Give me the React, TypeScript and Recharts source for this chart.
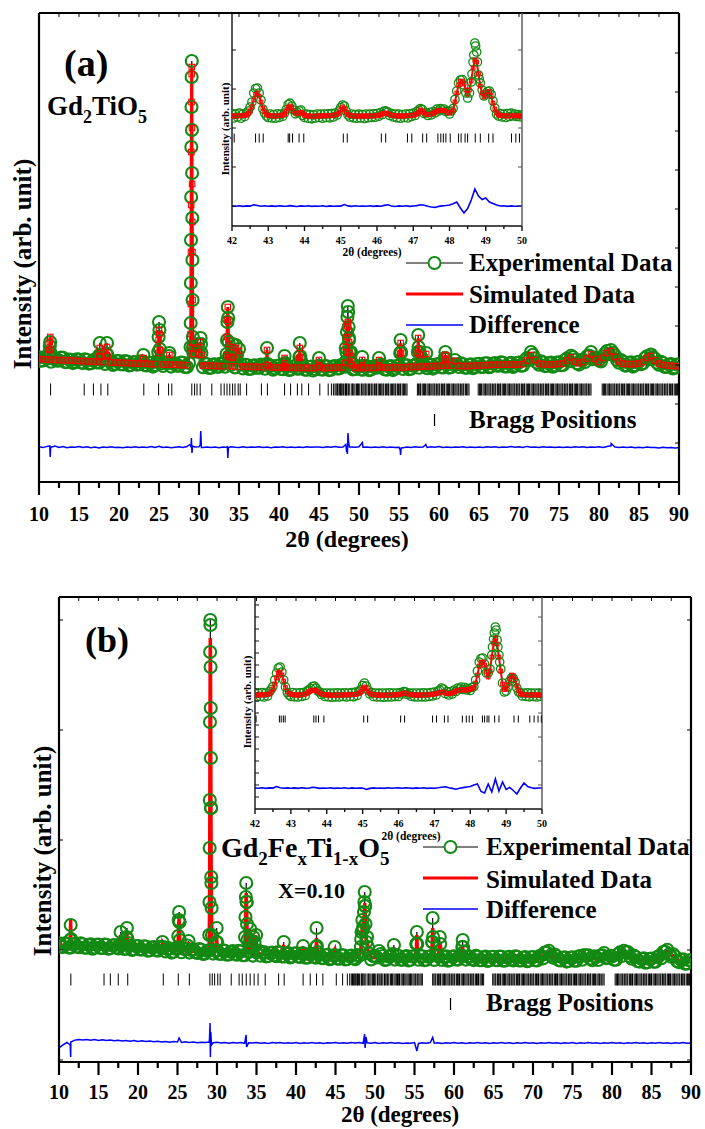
import React from 'react';
import { ComposedChart, Line, XAxis, YAxis } from 'recharts';

const FONT = "'Liberation Serif', 'Times New Roman', Times, serif";
const GREEN = '#138a13';
const RED = '#ff0000';
const BLUE = '#0000ff';

type Pt = { x: number; y: number };

// ---------------- Panel (a): Gd2TiO5 ----------------
// observed / calculated / difference counts, one sample every 0.5° from 10° to 90°
const obsBgA = [
  1248, 1216, 1232, 1202, 1236, 1216, 1242, 1200, 1223, 1203,
  1224, 1190, 1220, 1188, 1226, 1196, 1218, 1390, 1210, 1182,
  1210, 1176, 1204, 1170, 1200, 1178, 1204, 1166, 1192, 1170,
  1600, 1160, 1190, 1154, 1188, 1162, 1192, 1150, 2420, 1320,
  1300, 1148, 1178, 1142, 1176, 1152, 1180, 1420, 1170, 1146,
  1330, 1136, 1170, 1132, 1166, 1142, 1170, 1340, 1162, 1136,
  1162, 1128, 1160, 1124, 1158, 1134, 1162, 1122, 1154, 1130,
  1240, 1124, 1156, 1122, 1160, 1136, 1166, 1500, 1300, 1130,
  1158, 1122, 1158, 1124, 1160, 1240, 1162, 1124, 1160, 1136,
  1164, 1130, 1166, 1132, 1168, 1142, 1172, 1138, 1174, 1150,
  1180, 1146, 1184, 1148, 1220, 1150, 1178, 1142, 1178, 1152,
  1182, 1150, 1188, 1154, 1190, 1162, 1192, 1156, 1192, 1164,
  1194, 1166, 1240, 1300, 1236, 1172, 1196, 1160, 1194, 1166,
  1198, 1170, 1236, 1262, 1222, 1174, 1220, 1256, 1300, 1244,
  1216, 1258, 1310, 1320, 1266, 1192, 1202, 1166, 1196, 1168,
  1202, 1188, 1258, 1274, 1232, 1172, 1190, 1152, 1180, 1146,
  1174,
];
// observed counts between those samples (10.25°, 10.75°, … 89.75°)
const obsMidA = [
  1214, 1247, 1250, 1235, 1213, 1244, 1199, 1225, 1189, 1227,
  1195, 1228, 1184, 1216, 1195, 1255, 1181, 1207, 1171, 1209,
  1177, 1209, 1165, 1196, 1174, 1206, 1167, 1190, 1154, 1200,
  1185, 1195, 1260, 1184, 1163, 1195, 1151, 1190, 1350, 1320,
  1380, 1184, 1141, 1174, 1153, 1185, 1152, 1240, 1250, 1270,
  1175, 1173, 1130, 1163, 1142, 1174, 1132, 1160, 1122, 1161,
  1130, 1190, 1121, 1155, 1134, 1215, 1123, 1150, 1115, 1155,
  1126, 1160, 1119, 1154, 1135, 1170, 1152, 1440, 1125, 1155,
  1125, 1161, 1119, 1154, 1142, 1175, 1125, 1154, 1119, 1160,
  1290, 1167, 1127, 1162, 1185, 1245, 1162, 1170, 1134, 1176,
  1148, 1240, 1144, 1176, 1177, 1186, 1142, 1170, 1137, 1179,
  1151, 1188, 1148, 1183, 1164, 1198, 1155, 1184, 1150, 1190,
  1163, 1217, 1221, 1272, 1194, 1206, 1159, 1186, 1152, 1194,
  1167, 1220, 1208, 1247, 1188, 1219, 1199, 1265, 1227, 1230,
  1205, 1285, 1278, 1292, 1220, 1220, 1164, 1189, 1154, 1197,
  1177, 1240, 1228, 1250, 1192, 1203, 1151, 1174, 1136, 1174,
];
const calcBgA = [
  1230, 1228, 1226, 1224, 1222, 1220, 1218, 1216, 1215, 1213,
  1211, 1209, 1207, 1205, 1204, 1202, 1200, 1350, 1196, 1195,
  1193, 1191, 1190, 1188, 1186, 1185, 1183, 1182, 1180, 1179,
  1520, 1176, 1175, 1173, 1172, 1171, 1170, 1168, 2300, 1330,
  1280, 1164, 1163, 1162, 1161, 1160, 1159, 1450, 1157, 1156,
  1310, 1154, 1153, 1152, 1151, 1150, 1149, 1320, 1147, 1146,
  1145, 1144, 1144, 1143, 1142, 1142, 1141, 1141, 1140, 1140,
  1220, 1140, 1140, 1141, 1142, 1144, 1146, 1450, 1260, 1141,
  1140, 1140, 1141, 1141, 1142, 1220, 1143, 1143, 1144, 1145,
  1146, 1147, 1148, 1150, 1151, 1152, 1154, 1156, 1158, 1160,
  1162, 1164, 1166, 1165, 1210, 1161, 1160, 1160, 1161, 1163,
  1165, 1167, 1169, 1171, 1172, 1173, 1173, 1174, 1175, 1175,
  1176, 1180, 1215, 1270, 1220, 1185, 1178, 1176, 1176, 1178,
  1180, 1185, 1215, 1245, 1205, 1188, 1200, 1235, 1275, 1230,
  1200, 1240, 1290, 1310, 1250, 1205, 1185, 1180, 1178, 1180,
  1185, 1200, 1240, 1260, 1215, 1185, 1172, 1166, 1162, 1160,
  1158,
];
const diffBgA = [
  352, 344, 356, 348, 360, 346, 354, 342, 350, 347,
  355, 345, 352, 343, 349, 340, 350, 344, 352, 346,
  348, 342, 351, 345, 353, 344, 350, 346, 354, 345,
  356, 346, 350, 342, 348, 352, 346, 354, 347, 350,
  352, 344, 350, 346, 351, 343, 349, 345, 352, 348,
  346, 352, 344, 350, 347, 353, 345, 349, 343, 351,
  347, 352, 345, 350, 344, 351, 346, 353, 347, 350,
  349, 345, 352, 347, 356, 348, 350, 346, 351, 348,
  352, 347, 350, 344, 351, 346, 352, 345, 350, 344,
  348, 343, 350, 346, 352, 348, 350, 345, 352, 347,
  354, 346, 351, 344, 350, 347, 352, 345, 349, 346,
  350, 345, 352, 347, 353, 346, 351, 348, 354, 347,
  352, 345, 356, 348, 351, 346, 353, 347, 350, 345,
  349, 344, 351, 346, 352, 347, 353, 345, 350, 347,
  352, 346, 355, 362, 350, 345, 351, 344, 349, 343,
  348, 342, 350, 345, 346, 341, 347, 343, 345, 341,
  342,
];
// sharp reflections, sampled finely: 2θ, observed, calculated
const peakAngA = [
  11.3, 11.35, 11.4, 11.45, 17.55, 17.6, 17.65, 18.45, 18.56, 23.05,
  24.9, 24.95, 25.05, 25.1, 26.3,
  28.94, 28.96, 28.98, 29.02, 29.04, 29.06, 29.08, 29.1, 29.12, 29.14,
  29.16, 29.18, 29.2, 29.23, 29.26,
  29.9, 30.2, 30.3, 33.45, 33.55, 33.6, 33.65, 33.7, 33.75, 34.15,
  34.2, 34.25, 34.6, 38.42, 38.58, 40.64, 40.7, 40.76, 42.55, 42.6,
  42.65, 44.94, 45.06, 48.3, 48.35, 48.42, 48.55, 48.6, 48.65, 48.7,
  48.75, 48.8, 48.9, 49.1, 50.34, 50.4, 50.46, 52.44, 52.56, 55.15,
  55.2, 55.25, 57.35, 57.4, 57.45, 57.6, 58.4, 60.75, 60.8, 60.85,
];
const peakObsA = [
  1300, 1360, 1400, 1290, 1270, 1390, 1260, 1280, 1270, 1270,
  1300, 1450, 1520, 1330, 1290,
  1350, 1590, 1990, 2850, 3350, 3750, 4050, 4210, 3520, 3090,
  2640, 2220, 1820, 1450, 1300,
  1380, 1440, 1290, 1280, 1600, 1750, 1640, 1400, 1260, 1260,
  1380, 1250, 1370, 1180, 1180, 1170, 1260, 1170, 1250, 1390,
  1260, 1160, 1160, 1200, 1340, 1300, 1650, 1760, 1700, 1550,
  1420, 1300, 1200, 1180, 1160, 1250, 1160, 1160, 1160, 1290,
  1420, 1300, 1300, 1470, 1350, 1300, 1290, 1240, 1300, 1230,
];
const peakCalcA = [
  1320, 1400, 1450, 1330, 1260, 1340, 1250, 1270, 1260, 1240,
  1290, 1420, 1480, 1320, 1270,
  1340, 1480, 1780, 2770, 3300, 3800, 4080, 4150, 3540, 2980,
  2600, 2300, 1820, 1400, 1280,
  1350, 1400, 1270, 1270, 1620, 1750, 1600, 1380, 1250, 1250,
  1350, 1240, 1340, 1170, 1170, 1160, 1240, 1160, 1240, 1340,
  1250, 1150, 1150, 1190, 1350, 1300, 1560, 1600, 1580, 1500,
  1400, 1290, 1190, 1170, 1150, 1220, 1150, 1150, 1150, 1280,
  1390, 1290, 1290, 1440, 1330, 1270, 1280, 1230, 1270, 1220,
];
const diffSpikeAngA = [
  11.35, 11.4, 11.45, 28.95, 29.05, 29.12, 29.2, 30.15, 30.22, 30.3,
  33.55, 33.6, 33.68, 48.35, 48.45, 48.55, 48.62, 48.7, 48.8, 50.42,
  55.15, 55.2, 55.27, 58.35, 81.52,
];
const diffSpikeA = [
  362, 250, 335, 380, 440, 290, 360, 370, 510, 345,
  360, 240, 345, 375, 300, 280, 490, 400, 350, 395,
  320, 270, 340, 375, 385,
];
const braggLowA = [
  11.45, 15.65, 16.8, 17.74, 18.6, 23.1, 24.95, 26.2, 26.6, 29.1,
  29.45, 29.75, 30.15, 31.6, 32.75, 33.15, 33.5, 33.85, 34.2, 34.5,
  34.9, 35.15, 35.95, 37.8, 38.55, 40.7, 41.45, 42.3, 42.85, 43.7,
  45.1, 46.15, 46.55,
];

// ---------------- Panel (b): Gd2FexTi1-xO5, x = 0.10 ----------------
const obsBgB = [
  1188, 1150, 1184, 1146, 1180, 1148, 1178, 1142, 1176, 1144,
  1174, 1140, 1172, 1138, 1170, 1136, 1168, 1132, 1164, 1128,
  1160, 1124, 1155, 1118, 1150, 1112, 1142, 1106, 1138, 1102,
  1134, 1098, 1130, 1094, 1126, 1090, 1122, 1086, 1118, 1084,
  1117, 1080, 1113, 1076, 1109, 1072, 1105, 1068, 1101, 1064,
  1098, 1062, 1096, 1060, 1094, 1058, 1092, 1056, 1090, 1054,
  1088, 1050, 1084, 1046, 1080, 1042, 1076, 1038, 1072, 1034,
  1068, 1032, 1066, 1030, 1064, 1028, 1062, 1350, 1250, 1026,
  1061, 1110, 1060, 1024, 1060, 1024, 1059, 1023, 1059, 1022,
  1058, 1022, 1058, 1022, 1057, 1021, 1057, 1021, 1056, 1020,
  1056, 1024, 1064, 1024, 1055, 1019, 1054, 1018, 1054, 1017,
  1053, 1017, 1052, 1016, 1052, 1015, 1051, 1015, 1050, 1014,
  1050, 1016, 1062, 1095, 1112, 1044, 1058, 1016, 1048, 1010,
  1046, 1012, 1060, 1070, 1066, 1018, 1050, 1062, 1090, 1042,
  1055, 1022, 1096, 1112, 1100, 1032, 1050, 1004, 1036, 998,
  1035, 1002, 1062, 1100, 1122, 1052, 1055, 998, 1026, 986,
  1018,
];
const obsMidB = [
  1154, 1187, 1144, 1176, 1154, 1186, 1142, 1169, 1133, 1172,
  1141, 1175, 1132, 1165, 1144, 1176, 1131, 1190, 1120, 1158,
  1126, 1158, 1113, 1144, 1121, 1151, 1150, 1131, 1094, 1132,
  1400, 1133, 1165, 1121, 1099, 1130, 1080, 1111, 2540, 1115,
  1083, 1116, 1072, 1102, 1082, 1113, 1068, 1600, 1210, 1195,
  1115, 1098, 1055, 1088, 1067, 1099, 1055, 1084, 1046, 1085,
  1054, 1087, 1042, 1075, 1053, 1100, 1039, 1067, 1028, 1066,
  1034, 1068, 1025, 1058, 1038, 1070, 1230, 1560, 1085, 1059,
  1045, 1080, 1020, 1054, 1080, 1067, 1023, 1051, 1015, 1055,
  1180, 1060, 1018, 1052, 1200, 1065, 1180, 1049, 1013, 1053,
  1025, 1064, 1100, 1052, 1029, 1061, 1018, 1046, 1010, 1050,
  1019, 1054, 1012, 1046, 1026, 1058, 1015, 1043, 1007, 1047,
  1017, 1056, 1036, 1095, 1067, 1075, 1019, 1042, 1004, 1043,
  1013, 1055, 1023, 1061, 1034, 1058, 1020, 1067, 1039, 1063,
  1022, 1078, 1061, 1097, 1057, 1065, 1008, 1030, 992, 1031,
  1003, 1050, 1038, 1102, 1077, 1077, 1007, 1021, 982, 1017,
];
const calcBgB = [
  1170, 1168, 1166, 1165, 1163, 1162, 1161, 1160, 1159, 1158,
  1157, 1156, 1155, 1154, 1153, 1152, 1150, 1148, 1146, 1144,
  1142, 1140, 1137, 1134, 1131, 1128, 1125, 1122, 1120, 1118,
  1116, 1114, 1112, 1110, 1108, 1106, 1104, 1102, 1101, 1100,
  1099, 1097, 1095, 1093, 1091, 1089, 1087, 1085, 1083, 1081,
  1080, 1079, 1078, 1077, 1076, 1075, 1074, 1073, 1072, 1071,
  1070, 1068, 1066, 1064, 1062, 1060, 1058, 1056, 1054, 1052,
  1050, 1049, 1048, 1047, 1046, 1046, 1045, 1310, 1220, 1044,
  1043, 1090, 1043, 1042, 1042, 1042, 1041, 1041, 1041, 1040,
  1040, 1040, 1040, 1040, 1039, 1039, 1039, 1039, 1038, 1038,
  1038, 1042, 1046, 1042, 1037, 1037, 1036, 1036, 1036, 1035,
  1035, 1035, 1034, 1034, 1034, 1033, 1033, 1033, 1032, 1032,
  1031, 1033, 1040, 1075, 1090, 1060, 1040, 1034, 1030, 1028,
  1027, 1030, 1040, 1050, 1048, 1036, 1030, 1045, 1068, 1060,
  1035, 1040, 1075, 1090, 1080, 1050, 1030, 1022, 1018, 1016,
  1016, 1020, 1040, 1080, 1100, 1070, 1035, 1015, 1008, 1004,
  1000,
];
const diffBgB = [
  140, 172, 195, 208, 218, 224, 220, 226, 218, 224,
  216, 222, 214, 220, 212, 218, 210, 216, 208, 214,
  206, 212, 204, 210, 202, 208, 200, 206, 198, 204,
  200, 196, 203, 194, 200, 192, 198, 194, 200, 192,
  197, 190, 196, 188, 194, 190, 196, 187, 193, 189,
  195, 188, 192, 186, 194, 189, 195, 187, 192, 188,
  194, 186, 192, 188, 195, 187, 193, 186, 192, 189,
  195, 187, 193, 188, 196, 190, 194, 187, 192, 188,
  194, 186, 192, 188, 195, 187, 193, 186, 191, 188,
  194, 186, 192, 187, 195, 188, 193, 186, 192, 188,
  194, 187, 193, 186, 192, 188, 195, 187, 193, 186,
  192, 188, 195, 187, 193, 186, 192, 188, 194, 187,
  193, 186, 192, 188, 195, 187, 193, 186, 192, 188,
  194, 186, 192, 187, 195, 188, 193, 186, 192, 188,
  194, 187, 193, 186, 192, 188, 195, 187, 193, 186,
  192, 188, 195, 187, 193, 186, 192, 188, 194, 187,
  190,
];
const peakAngB = [
  11.42, 11.48, 11.54, 17.8, 18.55, 18.6, 18.66, 23.1, 25.1, 25.15,
  25.2, 25.25, 25.3, 26.4,
  29.02, 29.05, 29.07, 29.09, 29.11, 29.13, 29.15, 29.17, 29.19, 29.21,
  29.23, 29.25, 29.27, 29.29, 29.32, 29.36,
  29.9, 29.96, 30.02, 33.55, 33.6, 33.65, 33.7, 33.75, 33.8, 33.85,
  34.2, 34.6, 34.95, 38.45, 40.9, 42.55, 42.6, 42.65, 44.9, 48.2,
  48.3, 48.4, 48.45, 48.6, 48.65, 48.7, 48.75, 48.8, 48.9, 49.1,
  52.4, 55.25, 55.3, 55.35, 57.25, 57.3, 57.35, 58.2, 61.05, 61.1,
  61.15,
];
const peakObsB = [
  1220, 1370, 1230, 1300, 1250, 1340, 1230, 1200, 1260, 1420,
  1500, 1400, 1220, 1210,
  1270, 1600, 2140, 2620, 3400, 4100, 4420, 4370, 3950, 3540,
  3040, 2540, 1850, 1790, 1540, 1270,
  1200, 1340, 1200, 1250, 1450, 1650, 1790, 1600, 1380, 1220,
  1330, 1250, 1270, 1200, 1160, 1150, 1340, 1160, 1150, 1150,
  1300, 1420, 1320, 1500, 1600, 1700, 1560, 1380, 1200, 1150,
  1170, 1180, 1300, 1180, 1200, 1440, 1250, 1250, 1150, 1220,
  1150,
];
const peakCalcB = [
  1200, 1420, 1210, 1270, 1220, 1290, 1200, 1190, 1240, 1380,
  1440, 1350, 1200, 1200,
  1250, 1500, 1900, 2500, 3300, 3950, 4240, 4100, 3700, 3200,
  2700, 2200, 1800, 1600, 1400, 1220,
  1180, 1290, 1180, 1230, 1400, 1580, 1690, 1550, 1350, 1200,
  1320, 1260, 1250, 1170, 1150, 1130, 1240, 1140, 1120, 1120,
  1260, 1350, 1300, 1400, 1520, 1590, 1500, 1350, 1180, 1120,
  1100, 1150, 1270, 1150, 1180, 1340, 1200, 1200, 1100, 1150,
  1100,
];
const diffSpikeAngB = [
  11.42, 11.48, 11.54, 25.2, 29.05, 29.12, 29.16, 29.22, 29.3, 33.68,
  33.75, 48.6, 48.68, 48.75, 48.85, 55.3, 57.3,
];
const diffSpikeB = [
  170, 50, 200, 240, 230, 390, 50, 300, 170, 270,
  150, 230, 280, 140, 250, 110, 245,
];
const braggLowB = [
  11.5, 15.7, 16.5, 17.5, 18.7, 23.2, 25.1, 26.5, 29.1, 29.4,
  29.7, 30.1, 30.4, 31.8, 32.8, 33.2, 33.7, 34.2, 34.7, 35.2,
  36.1, 37.8, 38.5, 40.9, 41.8, 42.6, 43.4, 45.1, 45.9, 46.5,
];

// reflections above 46.5°, common to both structures
const braggDense = [
  46.8, 47.0, 47.15, 47.3, 47.38, 47.55, 47.7, 47.78, 47.9, 48.05, 48.25, 48.32, 48.45, 48.5,
  48.7, 48.85, 49.1, 49.2, 49.35, 49.5, 49.7, 49.82, 49.95, 50.1, 50.3, 50.4, 50.6, 50.75,
  50.85, 51.0, 51.2, 51.3, 51.5, 51.6, 51.75, 51.95, 52.1, 52.2, 52.4, 52.55, 52.7, 52.85,
  53.0, 53.1, 53.3, 53.45, 53.6, 53.7, 53.9, 54.05, 54.2, 54.35, 54.5, 54.6, 54.8, 54.95,
  55.1, 55.2, 55.4, 55.55, 55.7, 55.85, 56.0,
  57.3, 57.45, 57.6, 57.7, 57.9, 58.05, 58.2, 58.3, 58.5, 58.65, 58.8, 58.9, 59.1, 59.25,
  59.4, 59.5, 59.7, 59.85, 60.0, 60.1, 60.3, 60.45, 60.6, 60.7, 60.9, 61.05, 61.2, 61.3,
  61.5, 61.65, 61.8, 61.9, 62.1, 62.25, 62.4, 62.5, 62.7, 62.85, 63.0, 63.1, 63.3, 63.45,
  63.6, 63.75,
  64.9, 65.05, 65.2, 65.3, 65.5, 65.65, 65.8, 65.9, 66.1, 66.25, 66.4, 66.5, 66.7, 66.85,
  67.0, 67.1, 67.3, 67.45, 67.6, 67.7, 67.9, 68.05, 68.2, 68.3, 68.5, 68.65, 68.8, 68.9,
  69.1, 69.25, 69.4, 69.5, 69.7, 69.85, 70.0, 70.1, 70.3, 70.45, 70.6, 70.7, 70.9, 71.05,
  71.2, 71.3, 71.5, 71.65, 71.8, 71.9, 72.1, 72.25, 72.4, 72.5, 72.7, 72.85, 73.0, 73.1,
  73.3, 73.45, 73.6, 73.7, 73.9, 74.05, 74.2, 74.3, 74.5, 74.65, 74.8, 74.9, 75.1, 75.25,
  75.4, 75.5, 75.7, 75.85, 76.0, 76.1, 76.3, 76.45, 76.6, 76.7, 76.9, 77.05, 77.2, 77.3,
  77.5, 77.65, 77.8, 77.9, 78.1, 78.25, 78.4, 78.5, 78.7, 78.85, 79.0,
  80.4, 80.55, 80.7, 80.8, 81.0, 81.15, 81.3, 81.4, 81.6, 81.75, 81.9, 82.0, 82.2, 82.35,
  82.5, 82.6, 82.8, 82.95, 83.1, 83.2, 83.4, 83.55, 83.7, 83.8, 84.0, 84.15, 84.3, 84.4,
  84.6, 84.75, 84.9, 85.0, 85.2, 85.35, 85.5, 85.6, 85.8, 85.95, 86.1, 86.2, 86.4, 86.55,
  86.7, 86.8, 87.0, 87.15, 87.3, 87.4, 87.6, 87.75, 87.9, 88.0, 88.2, 88.35, 88.5, 88.6,
  88.8, 88.95, 89.1, 89.2, 89.4, 89.55, 89.7, 89.8, 89.95,
];

// ---------------- Insets: 42°–50° zoom, one sample every 0.05° ----------------
const obsInA = [
  1125, 1080, 1118, 1090, 1128, 1078, 1120, 1095, 1130, 1150,
  1190, 1240, 1330, 1375, 1380, 1330, 1260, 1170, 1130, 1100,
  1085, 1120, 1080, 1115, 1078, 1122, 1085, 1118, 1098, 1130,
  1165, 1215, 1228, 1200, 1160, 1122, 1138, 1152, 1160, 1105,
  1085, 1118, 1078, 1115, 1072, 1112, 1080, 1120, 1085, 1118,
  1078, 1120, 1085, 1122, 1082, 1125, 1090, 1128, 1110, 1150,
  1185, 1210, 1200, 1150, 1110, 1090, 1120, 1082, 1115, 1078,
  1118, 1080, 1115, 1075, 1120, 1082, 1118, 1085, 1122, 1088,
  1125, 1098, 1135, 1115, 1150, 1148, 1140, 1105, 1125, 1090,
  1120, 1082, 1118, 1078, 1115, 1085, 1120, 1080, 1122, 1095,
  1128, 1105, 1145, 1160, 1175, 1165, 1125, 1130, 1105, 1135,
  1112, 1145, 1130, 1168, 1150, 1175, 1160, 1170, 1145, 1150,
  1120, 1150, 1175, 1265, 1350, 1430, 1460, 1465, 1410, 1330,
  1280, 1330, 1440, 1640, 1830, 1740, 1510, 1430, 1360, 1300,
  1320, 1345, 1350, 1315, 1250, 1180, 1120, 1100, 1125, 1090,
  1120, 1085, 1125, 1095, 1128, 1100, 1120, 1095, 1115, 1092,
  1110,
];
const calcInA = [
  1100, 1101, 1100, 1102, 1101, 1102, 1103, 1105, 1110, 1125,
  1150, 1195, 1260, 1315, 1330, 1300, 1240, 1180, 1140, 1118,
  1108, 1103, 1101, 1100, 1100, 1101, 1102, 1105, 1110, 1118,
  1150, 1185, 1200, 1180, 1150, 1130, 1125, 1132, 1138, 1122,
  1106, 1102, 1100, 1099, 1099, 1099, 1100, 1100, 1100, 1101,
  1101, 1102, 1102, 1103, 1104, 1106, 1108, 1112, 1118, 1128,
  1160, 1190, 1175, 1140, 1115, 1105, 1102, 1100, 1100, 1099,
  1099, 1099, 1099, 1099, 1100, 1100, 1100, 1101, 1101, 1102,
  1102, 1106, 1112, 1120, 1128, 1130, 1125, 1116, 1108, 1104,
  1102, 1101, 1100, 1100, 1100, 1101, 1101, 1102, 1104, 1107,
  1108, 1112, 1120, 1140, 1160, 1150, 1130, 1118, 1114, 1116,
  1120, 1128, 1138, 1148, 1155, 1158, 1158, 1155, 1150, 1135,
  1130, 1140, 1160, 1240, 1330, 1410, 1445, 1450, 1420, 1360,
  1320, 1360, 1450, 1580, 1660, 1640, 1520, 1400, 1330, 1290,
  1310, 1340, 1345, 1300, 1230, 1170, 1130, 1112, 1105, 1102,
  1102, 1101, 1100, 1100, 1101, 1102, 1102, 1101, 1100, 1100,
  1100,
];
const extraObsAngInA = [48.62, 48.67, 48.72, 48.77, 48.82];
const extraObsInA = [1520, 1710, 1800, 1640, 1470];
// difference every 0.1°
const diffInA = [
  200, 198, 203, 196, 201, 199, 212, 205, 197, 202,
  198, 201, 196, 203, 199, 197, 204, 199, 195, 201,
  197, 202, 196, 200, 198, 203, 195, 201, 197, 200,
  199, 215, 201, 196, 202, 197, 200, 198, 203, 196,
  201, 198, 206, 212, 200, 195, 201, 198, 203, 196,
  200, 204, 212, 208, 198, 190, 186, 196, 201, 205,
  210, 222, 240, 180, 130, 175, 260, 370, 300, 265,
  280, 240, 225, 210, 200, 203, 196, 201, 198, 200,
  199,
];
const braggInA = [
  42.06, 42.65, 42.75, 42.86, 43.55, 43.59, 43.67, 43.85, 43.98, 45.07,
  45.18, 46.12, 46.24, 46.84, 46.96, 47.26, 47.37, 47.68, 47.76, 47.83,
  47.9, 48.02, 48.25, 48.32, 48.43, 48.5, 48.71, 48.85, 49.08, 49.2,
  49.71, 49.83, 49.93,
];

const obsInB = [
  1160, 1122, 1158, 1125, 1165, 1120, 1160, 1130, 1172, 1195,
  1225, 1290, 1360, 1410, 1420, 1370, 1290, 1220, 1165, 1140,
  1125, 1165, 1122, 1160, 1120, 1162, 1125, 1165, 1135, 1180,
  1190, 1205, 1225, 1230, 1210, 1180, 1170, 1145, 1160, 1125,
  1160, 1120, 1158, 1118, 1160, 1122, 1162, 1120, 1158, 1125,
  1162, 1120, 1160, 1125, 1165, 1122, 1168, 1135, 1178, 1195,
  1235, 1260, 1230, 1190, 1150, 1165, 1125, 1160, 1120, 1158,
  1120, 1160, 1118, 1158, 1122, 1162, 1120, 1160, 1125, 1158,
  1125, 1165, 1150, 1175, 1170, 1145, 1160, 1128, 1158, 1122,
  1160, 1120, 1158, 1122, 1162, 1120, 1160, 1125, 1165, 1130,
  1170, 1140, 1180, 1190, 1210, 1200, 1155, 1175, 1140, 1172,
  1150, 1190, 1175, 1210, 1200, 1220, 1195, 1215, 1190, 1205,
  1185, 1215, 1225, 1290, 1380, 1470, 1505, 1510, 1450, 1360,
  1360, 1400, 1540, 1700, 1820, 1690, 1540, 1400, 1260, 1170,
  1180, 1220, 1280, 1310, 1305, 1270, 1210, 1170, 1160, 1130,
  1160, 1125, 1162, 1122, 1158, 1125, 1160, 1120, 1158, 1128,
  1155,
];
const calcInB = [
  1140, 1141, 1140, 1142, 1141, 1142, 1143, 1145, 1152, 1170,
  1200, 1250, 1310, 1360, 1370, 1340, 1280, 1215, 1175, 1155,
  1147, 1143, 1141, 1140, 1140, 1141, 1142, 1145, 1150, 1160,
  1172, 1182, 1188, 1190, 1186, 1175, 1162, 1152, 1146, 1143,
  1141, 1140, 1139, 1139, 1139, 1139, 1140, 1140, 1140, 1141,
  1141, 1141, 1142, 1142, 1143, 1144, 1146, 1150, 1158, 1172,
  1200, 1220, 1205, 1178, 1158, 1148, 1143, 1141, 1140, 1139,
  1139, 1139, 1139, 1139, 1139, 1140, 1140, 1140, 1141, 1141,
  1143, 1148, 1155, 1160, 1158, 1152, 1146, 1143, 1141, 1140,
  1140, 1140, 1140, 1140, 1141, 1141, 1142, 1143, 1145, 1148,
  1150, 1153, 1158, 1165, 1170, 1168, 1160, 1155, 1153, 1155,
  1160, 1168, 1178, 1186, 1190, 1192, 1190, 1188, 1190, 1195,
  1198, 1205, 1215, 1260, 1340, 1430, 1468, 1470, 1440, 1370,
  1320, 1380, 1520, 1660, 1710, 1650, 1520, 1380, 1250, 1195,
  1200, 1240, 1300, 1340, 1335, 1290, 1230, 1180, 1155, 1145,
  1142, 1141, 1140, 1140, 1141, 1142, 1142, 1141, 1140, 1140,
  1140,
];
const extraObsAngInB = [48.62, 48.67, 48.72, 48.77, 48.82];
const extraObsInB = [1620, 1760, 1790, 1620, 1470];
const diffInB = [
  210, 208, 213, 206, 211, 209, 225, 212, 207, 211,
  208, 211, 206, 212, 209, 207, 218, 214, 206, 210,
  208, 212, 206, 210, 208, 213, 205, 211, 207, 210,
  209, 195, 206, 211, 207, 210, 206, 212, 207, 210,
  211, 207, 213, 210, 206, 211, 208, 212, 206, 210,
  208, 212, 218, 222, 212, 206, 198, 208, 214, 220,
  225, 240, 250, 175, 160, 250, 170, 300, 180, 270,
  195, 215, 185, 150, 210, 260, 225, 212, 206, 210,
  210,
];
const braggInB = [
  42.03, 42.68, 42.73, 42.79, 42.84, 43.64, 43.7, 43.77, 43.92, 45.03,
  45.14, 46.06, 46.17, 46.95, 47.06, 47.28, 47.38, 47.78, 47.89, 47.97,
  48.06, 48.34, 48.4, 48.47, 48.52, 48.68, 48.8, 49.22, 49.34, 49.66,
  49.78, 49.89, 49.98,
];

// axis ticks
const mainTicks = [
  10, 12.5, 15, 17.5, 20, 22.5, 25, 27.5, 30, 32.5, 35, 37.5, 40, 42.5, 45, 47.5, 50,
  52.5, 55, 57.5, 60, 62.5, 65, 67.5, 70, 72.5, 75, 77.5, 80, 82.5, 85, 87.5, 90,
];
const insetTicks = [42, 42.5, 43, 43.5, 44, 44.5, 45, 45.5, 46, 46.5, 47, 47.5, 48, 48.5, 49, 49.5, 50];

// ---------------- helpers ----------------
const onGrid = (vals: number[], start: number, step: number): Pt[] =>
  vals.map((y, i) => ({ x: Math.round((start + i * step) * 1000) / 1000, y }));
const zip = (xs: number[], ys: number[]): Pt[] => xs.map((x, i) => ({ x, y: ys[i] }));
const merged = (...parts: Pt[][]): Pt[] => parts.flat().sort((a, b) => a.x - b.x);
const row = (xs: number[], y: number): Pt[] => xs.map((x) => ({ x, y }));

const isMultiple = (v: number, step: number) => Math.abs(v / step - Math.round(v / step)) < 1e-6;

type Margin = { top: number; right: number; bottom: number; left: number };

type PanelProps = {
  left: number;
  top: number;
  width: number;
  height: number;
  margin: Margin;
  xDomain: [number, number];
  yDomain: [number, number];
  xTicks: number[];
  labelStep: number;
  tickMajor: number;
  tickMinor: number;
  labelDy: number;
  labelSize: number;
  topTicks?: number[];
  leftTicks?: number[];
  rightTicks?: number[];
  edgeTick: number;
  frameW: number;
  frameColor: string;
  rightColor?: string;
  obs: Pt[];
  calc: Pt[];
  diff: Pt[];
  bragg: Pt[];
  circleR: number;
  circleW: number;
  obsLineW: number;
  square: number;
  calcW: number;
  diffW: number;
  braggHalf: number;
};

// every axis is one pixel deep so that it is drawn; margins account for it
function Panel(p: PanelProps) {
  const axisLine = { stroke: p.frameColor, strokeWidth: p.frameW };

  const bottomTick = (t: any) => {
    const v = t.payload.value;
    const major = isMultiple(v, p.labelStep);
    return (
      <g>
        <line x1={t.x} x2={t.x} y1={t.y} y2={t.y + (major ? p.tickMajor : p.tickMinor)} stroke={p.frameColor} strokeWidth={p.frameW} />
        {major && (
          <text x={t.x} y={t.y + p.labelDy} textAnchor="middle" fontFamily={FONT} fontWeight="bold" fontSize={p.labelSize} fill="#000">
            {v}
          </text>
        )}
      </g>
    );
  };
  const topTick = (t: any) => (
    <line x1={t.x} x2={t.x} y1={t.y} y2={t.y + p.edgeTick} stroke={p.frameColor} strokeWidth={1} />
  );
  const leftTick = (t: any) => (
    <line x1={t.x} x2={t.x + p.edgeTick} y1={t.y} y2={t.y} stroke={p.frameColor} strokeWidth={1} />
  );
  const rightTick = (t: any) => (
    <line x1={t.x - p.edgeTick} x2={t.x} y1={t.y} y2={t.y} stroke={p.rightColor || p.frameColor} strokeWidth={1} />
  );

  const circleDot = (d: any) =>
    d.cx == null ? <g key={`o${d.index}`} /> : (
      <circle key={`o${d.index}`} cx={d.cx} cy={d.cy} r={p.circleR} fill="none" stroke={GREEN} strokeWidth={p.circleW} />
    );
  const squareDot = (d: any) =>
    d.cx == null ? <g key={`c${d.index}`} /> : (
      <rect key={`c${d.index}`} x={d.cx - p.square / 2} y={d.cy - p.square / 2} width={p.square} height={p.square} fill="none" stroke={RED} strokeWidth={1.1} />
    );
  const tickDot = (d: any) =>
    d.cx == null ? <g key={`b${d.index}`} /> : (
      <line key={`b${d.index}`} x1={d.cx} x2={d.cx} y1={d.cy - p.braggHalf} y2={d.cy + p.braggHalf} stroke="#000" strokeWidth={1} />
    );

  return (
    <div style={{ position: 'absolute', left: p.left, top: p.top, width: p.width, height: p.height }}>
      <ComposedChart width={p.width} height={p.height} margin={p.margin}>
        <XAxis
          dataKey="x"
          type="number"
          domain={p.xDomain}
          allowDataOverflow
          ticks={p.xTicks}
          interval={0}
          height={1}
          tickSize={0}
          tickMargin={0}
          tickLine={false}
          axisLine={axisLine}
          tick={bottomTick}
        />
        {p.topTicks && (
          <XAxis
            xAxisId="top"
            orientation="top"
            dataKey="x"
            type="number"
            domain={p.xDomain}
            allowDataOverflow
            ticks={p.topTicks}
            interval={0}
            height={1}
            tickSize={0}
            tickMargin={0}
            tickLine={false}
            axisLine={axisLine}
            tick={topTick}
          />
        )}
        <YAxis
          dataKey="y"
          type="number"
          domain={p.yDomain}
          allowDataOverflow
          width={1}
          ticks={p.leftTicks}
          interval={0}
          tickSize={0}
          tickMargin={0}
          tickLine={false}
          axisLine={axisLine}
          tick={p.leftTicks ? leftTick : false}
        />
        <YAxis
          yAxisId="right"
          orientation="right"
          dataKey="y"
          type="number"
          domain={p.yDomain}
          allowDataOverflow
          width={1}
          ticks={p.rightTicks}
          interval={0}
          tickSize={0}
          tickMargin={0}
          tickLine={false}
          axisLine={{ stroke: p.rightColor || p.frameColor, strokeWidth: p.frameW }}
          tick={p.rightTicks ? rightTick : false}
        />
        <Line
          data={p.obs}
          dataKey="y"
          stroke={p.obsLineW > 0 ? '#000' : 'none'}
          strokeWidth={p.obsLineW}
          dot={circleDot}
          activeDot={false}
          isAnimationActive={false}
        />
        <Line
          data={p.calc}
          dataKey="y"
          stroke={RED}
          strokeWidth={p.calcW}
          dot={p.square > 0 ? squareDot : false}
          activeDot={false}
          isAnimationActive={false}
        />
        <Line data={p.diff} dataKey="y" stroke={BLUE} strokeWidth={p.diffW} dot={false} activeDot={false} isAnimationActive={false} />
        <Line data={p.bragg} dataKey="y" stroke="none" dot={tickDot} activeDot={false} isAnimationActive={false} />
      </ComposedChart>
    </div>
  );
}

// ---------------- assembled series ----------------
const seriesA = {
  obs: merged(onGrid(obsBgA, 10, 0.5), onGrid(obsMidA, 10.25, 0.5), zip(peakAngA, peakObsA)),
  calc: merged(onGrid(calcBgA, 10, 0.5), zip(peakAngA, peakCalcA)),
  diff: merged(onGrid(diffBgA, 10, 0.5), zip(diffSpikeAngA, diffSpikeA)),
  bragg: row([...braggLowA, ...braggDense], 925),
};
const seriesB = {
  obs: merged(onGrid(obsBgB, 10, 0.5), onGrid(obsMidB, 10.25, 0.5), zip(peakAngB, peakObsB)),
  calc: merged(onGrid(calcBgB, 10, 0.5), zip(peakAngB, peakCalcB)),
  diff: merged(onGrid(diffBgB, 10, 0.5), zip(diffSpikeAngB, diffSpikeB)),
  bragg: row([...braggLowB, ...braggDense], 825),
};
const insetA = {
  obs: merged(onGrid(obsInA, 42, 0.05), zip(extraObsAngInA, extraObsInA)),
  calc: onGrid(calcInA, 42, 0.05),
  diff: onGrid(diffInA, 42, 0.1),
  bragg: row(braggInA, 880),
};
const insetB = {
  obs: merged(onGrid(obsInB, 42, 0.05), zip(extraObsAngInB, extraObsInB)),
  calc: onGrid(calcInB, 42, 0.05),
  diff: onGrid(diffInB, 42, 0.1),
  bragg: row(braggInB, 900),
};

const mainStyle = {
  xDomain: [10, 90] as [number, number],
  xTicks: mainTicks,
  labelStep: 5,
  tickMajor: 13,
  tickMinor: 6,
  labelDy: 39,
  labelSize: 20,
  topTicks: mainTicks,
  edgeTick: 4,
  frameW: 2.2,
  frameColor: '#000',
  circleR: 6,
  circleW: 2.1,
  obsLineW: 0.8,
  calcW: 3,
  diffW: 1.5,
  braggHalf: 6,
};
const insetStyle = {
  xDomain: [42, 50] as [number, number],
  xTicks: insetTicks,
  labelStep: 1,
  tickMajor: 5,
  tickMinor: 3,
  labelDy: 18,
  labelSize: 10,
  edgeTick: 4,
  frameW: 1.4,
  frameColor: '#111',
  rightColor: '#555',
  circleR: 4.2,
  circleW: 1.3,
  obsLineW: 0,
  square: 3.6,
  calcW: 2,
  diffW: 1.6,
};

// ---------------- text and legend layer ----------------
function Annotations() {
  const T = { fontFamily: FONT, fontWeight: 'bold' as const, fill: '#000' };
  const legend = (x0: number, x1: number, xt: number, rows: number[], base: number[], braggY: number, braggBase: number) => {
    const cx = (x0 + x1) / 2;
    return (
      <g>
        <line x1={x0} x2={x1} y1={rows[0]} y2={rows[0]} stroke="#000" strokeWidth={1.2} />
        <circle cx={cx} cy={rows[0]} r={6} fill="#fff" stroke={GREEN} strokeWidth={2} />
        <line x1={x0} x2={x1} y1={rows[1]} y2={rows[1]} stroke={RED} strokeWidth={3} />
        <line x1={x0} x2={x1} y1={rows[2]} y2={rows[2]} stroke={BLUE} strokeWidth={1.5} />
        <text x={xt} y={base[0]} fontSize={25} {...T}>Experimental Data</text>
        <text x={xt} y={base[1]} fontSize={25} {...T}>Simulated Data</text>
        <text x={xt} y={base[2]} fontSize={25} {...T}>Difference</text>
        <line x1={cx} x2={cx} y1={braggY - 6} y2={braggY + 6} stroke="#000" strokeWidth={1.2} />
        <text x={xt} y={braggBase} fontSize={25} {...T}>Bragg Positions</text>
      </g>
    );
  };
  return (
    <svg width={705} height={1129} style={{ position: 'absolute', left: 0, top: 0, pointerEvents: 'none' }}>
      {/* panel (a) */}
      <text x={64} y={76} fontSize={38} {...T}>(a)</text>
      <text x={47} y={115} fontSize={27} {...T}>
        Gd<tspan fontSize={18} dy={8}>2</tspan>
        <tspan dy={-8}>TiO</tspan>
        <tspan fontSize={18} dy={8}>5</tspan>
      </text>
      {legend(406, 463, 469, [263, 294, 325], [271, 303, 333], 420, 428)}
      <text x={347} y={547} fontSize={24} textAnchor="middle" {...T}>2θ (degrees)</text>
      <text transform="translate(31,264) rotate(-90)" fontSize={25} textAnchor="middle" {...T}>Intensity (arb. unit)</text>
      <text x={372} y={256} fontSize={11.5} textAnchor="middle" {...T}>2θ (degrees)</text>
      <text transform="translate(229,129) rotate(-90)" fontSize={11} textAnchor="middle" {...T}>Intensity (arb. unit)</text>

      {/* panel (b) */}
      <text x={85} y={652} fontSize={36} {...T}>(b)</text>
      <text x={221} y={857} fontSize={28} {...T}>
        Gd<tspan fontSize={19} dy={8}>2</tspan>
        <tspan dy={-8}>Fe</tspan>
        <tspan fontSize={19} dy={8}>x</tspan>
        <tspan dy={-8}>Ti</tspan>
        <tspan fontSize={19} dy={8}>1-x</tspan>
        <tspan dy={-8}>O</tspan>
        <tspan fontSize={19} dy={8}>5</tspan>
      </text>
      <text x={278} y={898} fontSize={22} {...T}>X=0.10</text>
      {legend(423, 478, 486, [847, 878, 909], [855, 888, 918], 1004, 1011)}
      <text x={400} y={1122} fontSize={23} textAnchor="middle" {...T}>2θ (degrees)</text>
      <text transform="translate(51,851) rotate(-90)" fontSize={25} textAnchor="middle" {...T}>Intensity (arb. unit)</text>
      <text x={411} y={840} fontSize={11.5} textAnchor="middle" {...T}>2θ (degrees)</text>
      <text transform="translate(251,702) rotate(-90)" fontSize={11} textAnchor="middle" {...T}>Intensity (arb. unit)</text>
    </svg>
  );
}

export default function App() {
  return (
    <div style={{ position: 'absolute', left: 0, top: 0, width: 705, height: 1129, background: '#fff', overflow: 'hidden' }}>
      <Panel
        left={0}
        top={0}
        width={705}
        height={560}
        margin={{ top: 12, right: 25, bottom: 77, left: 38 }}
        yDomain={[0, 4690]}
        rightTicks={[390, 780, 1170, 1560, 1950, 2340, 2730, 3120, 3510, 3900, 4290]}
        square={5.5}
        {...mainStyle}
        {...seriesA}
      />
      <Panel
        left={0}
        top={570}
        width={705}
        height={559}
        margin={{ top: 26, right: 13, bottom: 66, left: 58 }}
        yDomain={[0, 4650]}
        leftTicks={[20, 1120, 2220, 3320, 4420]}
        rightTicks={[20, 1120, 2220, 3320, 4420]}
        square={0}
        {...mainStyle}
        labelDy={37}
        calcW={3.5}
        {...seriesB}
      />
      <Panel
        left={200}
        top={0}
        width={340}
        height={270}
        margin={{ top: 13, right: 17, bottom: 43, left: 31 }}
        yDomain={[0, 2130]}
        leftTicks={[200, 590, 980, 1370, 1760]}
        rightTicks={[200, 590, 980, 1370, 1760]}
        braggHalf={4.5}
        {...insetStyle}
        {...insetA}
      />
      <Panel
        left={215}
        top={580}
        width={345}
        height={270}
        margin={{ top: 17, right: 17, bottom: 40, left: 39 }}
        yDomain={[0, 2120]}
        leftTicks={[120, 240, 360, 480, 600, 720, 840, 960, 1080, 1200, 1320, 1440, 1560, 1680, 1800, 1920, 2040]}
        rightTicks={[240, 480, 720, 960, 1200, 1440, 1680, 1920]}
        braggHalf={3.5}
        {...insetStyle}
        {...insetB}
      />
      <Annotations />
    </div>
  );
}
